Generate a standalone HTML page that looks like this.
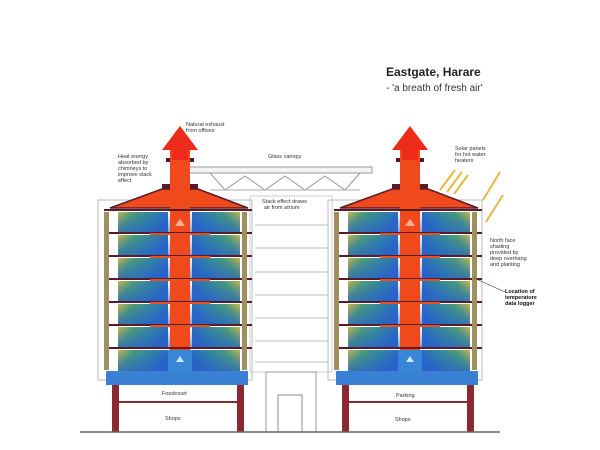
<!DOCTYPE html>
<html><head><meta charset="utf-8"><style>
html,body{margin:0;padding:0;background:#fff;}
svg{display:block;font-family:"Liberation Sans",sans-serif;}
</style></head><body>
<svg width="600" height="450" viewBox="0 0 600 450" xmlns="http://www.w3.org/2000/svg">
<defs>
<linearGradient id="fl" x1="0" y1="0" x2="1" y2="0.3">
<stop offset="0" stop-color="#c8b84c"/><stop offset="0.3" stop-color="#4a9c78"/><stop offset="0.7" stop-color="#2f82a8"/><stop offset="1" stop-color="#2a66c8"/>
</linearGradient>
<linearGradient id="fr" x1="1" y1="0" x2="0" y2="0.3">
<stop offset="0" stop-color="#c8b84c"/><stop offset="0.3" stop-color="#4a9c78"/><stop offset="0.7" stop-color="#2f82a8"/><stop offset="1" stop-color="#2a66c8"/>
</linearGradient>
<linearGradient id="sh" x1="0" y1="0" x2="0" y2="1">
<stop offset="0" stop-color="#2a60c8" stop-opacity="0"/><stop offset="1" stop-color="#2a60c8" stop-opacity="0.6"/>
</linearGradient>
<g id="bld">
<rect x="98" y="200" width="154" height="180" fill="none" stroke="#bbb" stroke-width="1"/>
<polygon points="110,208 162,189 198,189 248,208" fill="#f04a1c" stroke="#5a1a2a" stroke-width="1.5"/>
<rect x="166" y="158" width="28" height="4" fill="#5a1a2a"/>
<rect x="162" y="184" width="36" height="5" fill="#5a1a2a"/>
<g fill="url(#fl)">
<rect x="118" y="212" width="50" height="21"/><rect x="118" y="235" width="50" height="21"/>
<rect x="118" y="258" width="50" height="21"/><rect x="118" y="281" width="50" height="21"/>
<rect x="118" y="304" width="50" height="21"/><rect x="118" y="327" width="50" height="21"/>
<rect x="118" y="350" width="50" height="21"/>
</g>
<g fill="url(#fr)">
<rect x="192" y="212" width="48" height="21"/><rect x="192" y="235" width="48" height="21"/>
<rect x="192" y="258" width="48" height="21"/><rect x="192" y="281" width="48" height="21"/>
<rect x="192" y="304" width="48" height="21"/><rect x="192" y="327" width="48" height="21"/>
<rect x="192" y="350" width="48" height="21"/>
</g>
<g fill="url(#sh)">
<rect x="118" y="212" width="122" height="21"/><rect x="118" y="235" width="122" height="21"/>
<rect x="118" y="258" width="122" height="21"/><rect x="118" y="281" width="122" height="21"/>
<rect x="118" y="304" width="122" height="21"/><rect x="118" y="327" width="122" height="21"/>
<rect x="118" y="350" width="122" height="21"/>
</g>
<rect x="170" y="148" width="20" height="202" fill="#f04a1c"/>
<polygon points="162,150 180,126 198,150 188,150 188,160 172,160 172,150" fill="#ee2a1a"/>
<rect x="168" y="350" width="24" height="22" fill="#3a86d6"/>
<g stroke="#5a1a2a" stroke-width="2">
<line x1="104" y1="210" x2="252" y2="210"/><line x1="104" y1="233" x2="252" y2="233"/>
<line x1="104" y1="256" x2="252" y2="256"/><line x1="104" y1="279" x2="252" y2="279"/>
<line x1="104" y1="302" x2="252" y2="302"/><line x1="104" y1="325" x2="252" y2="325"/>
<line x1="104" y1="348" x2="252" y2="348"/>
</g>
<g stroke="#e85020" stroke-width="2"><line x1="150" y1="234" x2="210" y2="234"/><line x1="150" y1="257" x2="210" y2="257"/><line x1="150" y1="280" x2="210" y2="280"/><line x1="150" y1="303" x2="210" y2="303"/><line x1="150" y1="326" x2="210" y2="326"/></g>
<g fill="#a09060"><rect x="104" y="212" width="5" height="158"/><rect x="242" y="212" width="5" height="158"/></g>
<rect x="106" y="371" width="142" height="14" fill="#3a80d4"/>
<rect x="112" y="385" width="7" height="47" fill="#8a2a30"/>
<rect x="237" y="385" width="7" height="47" fill="#8a2a30"/>
<line x1="119" y1="402" x2="237" y2="402" stroke="#8a2a30" stroke-width="2"/>
<polygon points="175,226 180,219 185,226" fill="#f6b090"/>
<polygon points="176,362 180,356 184,362" fill="#cfe6ff"/>
</g>
</defs>
<text x="386" y="76" font-size="12" font-weight="bold" fill="#222">Eastgate, Harare</text>
<text x="386" y="91" font-size="10" fill="#333">- 'a breath of fresh air'</text>
<rect x="250" y="196" width="82" height="176" fill="#fff" stroke="#ccc"/>
<g stroke="#bbb"><line x1="255" y1="225" x2="328" y2="225"/><line x1="255" y1="248" x2="328" y2="248"/><line x1="255" y1="272" x2="328" y2="272"/><line x1="255" y1="295" x2="328" y2="295"/><line x1="255" y1="318" x2="328" y2="318"/><line x1="255" y1="341" x2="328" y2="341"/><line x1="255" y1="362" x2="328" y2="362"/></g>
<polygon points="186,167 372,167 372,173 186,173" fill="#f4f4f4" stroke="#999"/>
<polyline points="210,173 225,190 245,176 265,190 285,176 305,190 325,176 345,190 360,173" fill="none" stroke="#999"/>
<line x1="210" y1="190" x2="360" y2="190" stroke="#aaa"/>
<use href="#bld"/>
<use href="#bld" x="230"/>
<g fill="none" stroke="#999"><rect x="266" y="372" width="50" height="60"/><rect x="278" y="395" width="24" height="37" stroke="#8a8aa0"/></g>
<line x1="80" y1="432" x2="500" y2="432" stroke="#666" stroke-width="1.5"/>
<g stroke="#e8b840" stroke-width="2"><line x1="440" y1="190" x2="455" y2="170"/><line x1="447" y1="192" x2="462" y2="172"/><line x1="454" y1="194" x2="468" y2="175"/><line x1="483" y1="200" x2="500" y2="172"/><line x1="486" y1="222" x2="503" y2="195"/></g>
<g font-size="5.5" fill="#333">
<text x="186" y="126">Natural exhaust</text><text x="186" y="132">from offices</text>
<text x="118" y="158">Heat energy</text><text x="118" y="164">absorbed by</text><text x="118" y="170">chimneys to</text><text x="118" y="176">improve stack</text><text x="118" y="182">effect</text>
<text x="268" y="158">Glass canopy</text>
<text x="262" y="203">Stack effect draws</text><text x="264" y="209">air from atrium</text>
<text x="455" y="150">Solar panels</text><text x="455" y="156">for hot water</text><text x="455" y="162">heaters</text>
<text x="490" y="242">North face</text><text x="490" y="248">shading</text><text x="490" y="254">provided by</text><text x="490" y="260">deep overhang</text><text x="490" y="266">and planting</text>
<text x="162" y="395">Foodcourt</text><text x="165" y="420">Shops</text>
<text x="396" y="397">Parking</text><text x="395" y="421">Shops</text>
</g>
<g font-size="5.5" font-weight="bold" fill="#111"><text x="505" y="293">Location of</text><text x="505" y="299">temperature</text><text x="505" y="305">data logger</text></g>
<line x1="474" y1="278" x2="505" y2="292" stroke="#333" stroke-width="0.6"/>
</svg>
</body></html>
